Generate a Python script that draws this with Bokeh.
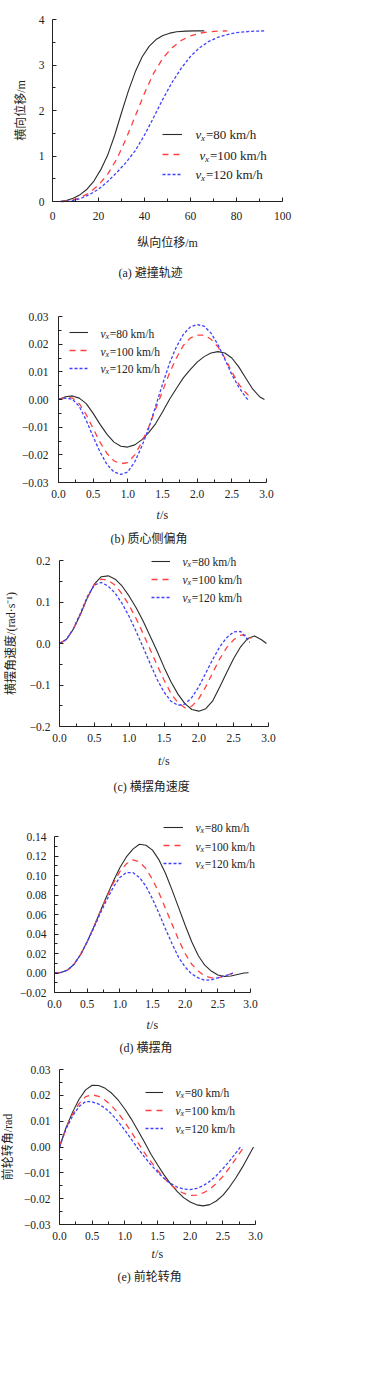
from bokeh.plotting import figure
from bokeh.models import Range1d, FixedTicker, Label, Legend, LegendItem, CustomJSTickFormatter
from bokeh.layouts import column
from bokeh.embed import file_html
from bokeh.resources import INLINE

# ---------------- data ----------------
series_names = ["=80 km/h", "=100 km/h", "=120 km/h"]

# (a) trajectory: longitudinal x (m) vs lateral y (m)
a_x80 = [3, 6, 9, 12, 15, 18, 21, 24, 27, 30, 33, 36, 39, 42, 45, 48, 51, 54, 58, 62, 66]
a_y80 = [0.0, 0.02, 0.07, 0.15, 0.27, 0.45, 0.70, 1.02, 1.45, 1.95, 2.43, 2.85, 3.18, 3.41, 3.56, 3.65, 3.70, 3.73, 3.745, 3.75, 3.75]
a_x100 = [4, 8, 12, 16, 20, 24, 28, 32, 36, 40, 44, 48, 52, 56, 60, 64, 68, 72, 76]
a_y100 = [0.0, 0.02, 0.08, 0.19, 0.36, 0.60, 0.94, 1.38, 1.88, 2.38, 2.82, 3.15, 3.38, 3.54, 3.64, 3.70, 3.73, 3.745, 3.75]
a_x120 = [4, 8, 12, 16, 20, 24, 28, 32, 36, 40, 44, 48, 52, 56, 60, 64, 68, 72, 76, 80, 86, 92.6]
a_y120 = [0.0, 0.01, 0.06, 0.15, 0.27, 0.44, 0.64, 0.86, 1.12, 1.46, 1.85, 2.25, 2.62, 2.93, 3.19, 3.38, 3.52, 3.61, 3.67, 3.71, 3.74, 3.75]

T = [0.0, 0.1, 0.2, 0.3, 0.4, 0.5, 0.6, 0.7, 0.8, 0.9, 1.0, 1.1, 1.2, 1.3, 1.4,
     1.5, 1.6, 1.7, 1.8, 1.9, 2.0, 2.1, 2.2, 2.3, 2.4, 2.5, 2.6, 2.7, 2.8, 2.9]
t80 = T + [2.97]
t100 = T[:28] + [2.74]
t120 = T[:28] + [2.73]
t100e = T[:29] + [2.82]
t120e = T[:28] + [2.77]
t100c = T[:28] + [2.75]

# (b) sideslip angle
b_80 = [0.0, 0.0010, 0.0013, 0.0005, -0.0015, -0.0050, -0.0090, -0.0126, -0.0154, -0.0169, -0.0172,
        -0.0164, -0.0146, -0.0120, -0.0088, -0.0045, 0.0000, 0.0040, 0.0078, 0.0108, 0.0135, 0.0155,
        0.0168, 0.0173, 0.0168, 0.0150, 0.0118, 0.0078, 0.0038, 0.0010, 0.0]
b_100 = [0.0, 0.0008, 0.0005, -0.0015, -0.0055, -0.0105, -0.0155, -0.0195, -0.0222, -0.0232, -0.0228,
         -0.0200, -0.0155, -0.0100, -0.0035, 0.0030, 0.0095, 0.0150, 0.0195, 0.0222, 0.0233, 0.0233,
         0.0218, 0.0190, 0.0150, 0.0100, 0.0055, 0.0025, 0.0015]
b_120 = [0.0, 0.0005, 0.0001, -0.0025, -0.0075, -0.0135, -0.0190, -0.0235, -0.0262, -0.0271, -0.0262,
         -0.0225, -0.0170, -0.0105, -0.0025, 0.0055, 0.0130, 0.0190, 0.0235, 0.0262, 0.0271, 0.0265,
         0.0240, 0.0198, 0.0145, 0.0090, 0.0045, 0.0008, 0.0]

# (c) yaw rate
c_80 = [0.0, 0.010, 0.035, 0.070, 0.110, 0.143, 0.161, 0.163, 0.155, 0.138, 0.114, 0.086, 0.054, 0.018,
        -0.018, -0.057, -0.092, -0.122, -0.145, -0.159, -0.163, -0.157, -0.138, -0.105, -0.070, -0.036,
        -0.008, 0.012, 0.018, 0.009, 0.0]
c_100 = [0.0, 0.010, 0.035, 0.070, 0.110, 0.142, 0.155, 0.152, 0.140, 0.119, 0.092, 0.060, 0.024, -0.014,
         -0.052, -0.088, -0.120, -0.143, -0.155, -0.151, -0.133, -0.104, -0.070, -0.037, -0.010, 0.009,
         0.020, 0.020, 0.012]
c_120 = [0.0, 0.010, 0.036, 0.073, 0.113, 0.141, 0.147, 0.138, 0.121, 0.096, 0.065, 0.029, -0.009, -0.048,
         -0.086, -0.117, -0.139, -0.149, -0.146, -0.130, -0.104, -0.071, -0.038, -0.008, 0.014, 0.028,
         0.029, 0.010, 0.003]

# (d) roll angle
d_80 = [0.0, 0.0005, 0.003, 0.009, 0.019, 0.032, 0.047, 0.063, 0.079, 0.094, 0.108, 0.119, 0.127, 0.132,
        0.131, 0.126, 0.116, 0.102, 0.085, 0.067, 0.049, 0.032, 0.018, 0.008, 0.002, -0.002, -0.0035,
        -0.003, -0.0015, 0.0, 0.0003]
d_100 = [0.0, 0.0005, 0.003, 0.009, 0.019, 0.032, 0.047, 0.063, 0.078, 0.092, 0.104, 0.112, 0.116, 0.114,
         0.107, 0.096, 0.082, 0.066, 0.050, 0.034, 0.020, 0.009, 0.002, -0.003, -0.005, -0.005, -0.003,
         -0.001, 0.0]
d_120 = [0.0, 0.0005, 0.003, 0.009, 0.019, 0.032, 0.046, 0.061, 0.075, 0.088, 0.098, 0.103, 0.103, 0.098,
         0.089, 0.076, 0.061, 0.045, 0.030, 0.016, 0.006, -0.001, -0.005, -0.0075, -0.007, -0.005, -0.003,
         -0.001, 0.0]

# (e) front wheel steer angle
e_80 = [0.0, 0.0075, 0.0135, 0.0185, 0.0221, 0.0239, 0.0238, 0.0227, 0.0208, 0.0181, 0.0147, 0.0108,
        0.0064, 0.0019, -0.0028, -0.0069, -0.0108, -0.0143, -0.0172, -0.0196, -0.0213, -0.0224, -0.0228,
        -0.0223, -0.0209, -0.0187, -0.0156, -0.0119, -0.0078, -0.0032, 0.0]
e_100 = [0.0, 0.0072, 0.0127, 0.0168, 0.0195, 0.0202, 0.0196, 0.0181, 0.0159, 0.0130, 0.0096, 0.0058,
         0.0017, -0.0022, -0.0057, -0.0090, -0.0120, -0.0146, -0.0166, -0.0179, -0.0187, -0.0186, -0.0178,
         -0.0163, -0.0141, -0.0114, -0.0081, -0.0045, -0.0008, 0.0]
e_120 = [0.0, 0.0070, 0.0120, 0.0157, 0.0176, 0.0175, 0.0166, 0.0150, 0.0127, 0.0098, 0.0065, 0.0030,
         -0.0006, -0.0038, -0.0069, -0.0097, -0.0121, -0.0141, -0.0155, -0.0163, -0.0165, -0.0160, -0.0150,
         -0.0133, -0.0111, -0.0084, -0.0055, -0.0023, 0.0]

t_ticks = [0.0, 0.5, 1.0, 1.5, 2.0, 2.5, 3.0]

# ---------------- styling ----------------
SERIF = "Liberation Serif"
MIX = "Liberation Serif, Noto Sans CJK SC"
TXT = "#222222"
COLORS = ["#2b2b2b", "#ff4040", "#4040ff"]
DASHES = ["solid", "6 5", "3 2"]
WIDTHS = [1.1, 1.3, 1.3]
W = 376


def fmt(d):
    return CustomJSTickFormatter(args=dict(d=d), code="""
        const s = Math.abs(tick) < 1e-9 ? (0).toFixed(d) : tick.toFixed(d);
        return s.replace('-', '\u2212');
    """)


def mids(t):
    return [(t[i] + t[i + 1]) / 2 for i in range(len(t) - 1)]


def panel(spec):
    fl, fr, ft, fb, top, h = spec["fl"], spec["fr"], spec["ft"], spec["fb"], spec["top"], spec["h"]
    x0, x1 = spec["xt"][0], spec["xt"][-1]
    y0, y1 = spec["yt"][0], spec["yt"][-1]
    kx = (x1 - x0) / (fr - fl)
    ky = (y1 - y0) / (fb - ft)
    bottom = top + h
    p = figure(frame_width=W, frame_height=h,
               min_border_left=0, min_border_right=0, min_border_top=0, min_border_bottom=0,
               x_range=Range1d(x0 - fl * kx, x0 + (W - fl) * kx),
               y_range=Range1d(y0 - (bottom - fb) * ky, y1 + (ft - top) * ky),
               output_backend="svg", toolbar_location=None)
    p.xgrid.visible = False
    p.ygrid.visible = False
    p.outline_line_color = None
    p.background_fill_color = "white"
    p.border_fill_color = "white"
    p.xaxis.fixed_location = y0
    p.xaxis.bounds = (x0, x1)
    p.yaxis.fixed_location = x0
    p.yaxis.bounds = (y0, y1)
    for ax, ticks, d in ((p.xaxis[0], spec["xt"], spec["xd"]), (p.yaxis[0], spec["yt"], spec["yd"])):
        ax.ticker = FixedTicker(ticks=ticks, minor_ticks=mids(ticks))
        ax.formatter = fmt(d)
        ax.axis_line_color = TXT
        ax.axis_line_width = 1
        ax.major_tick_in = 4
        ax.major_tick_out = 0
        ax.minor_tick_in = 3
        ax.minor_tick_out = 0
        ax.major_tick_line_color = TXT
        ax.minor_tick_line_color = TXT
        ax.major_label_text_font = SERIF
        ax.major_label_text_font_size = "11.5px"
        ax.major_label_text_color = TXT
    p.xaxis.major_label_standoff = spec["xls"]
    p.yaxis.major_label_standoff = spec["yls"]

    if spec.get("ylabel"):
        p.yaxis.axis_label = spec["ylabel"]
        p.yaxis.axis_label_text_font = MIX
        p.yaxis.axis_label_text_font_size = "12px"
        p.yaxis.axis_label_text_font_style = "normal"
        p.yaxis.axis_label_text_color = TXT
        p.yaxis.axis_label_standoff = spec["yas"]
    if spec.get("xlabel"):
        p.xaxis.axis_label = spec["xlabel"]
        p.xaxis.axis_label_text_font = MIX
        p.xaxis.axis_label_text_font_size = "12px"
        p.xaxis.axis_label_text_font_style = "normal"
        p.xaxis.axis_label_text_color = TXT
        p.xaxis.axis_label_standoff = spec["xas"]

    rs = []
    for (xs, ys), c, dsh, w in zip(spec["data"], COLORS, DASHES, WIDTHS):
        rs.append(p.line(xs, ys, line_color=c, line_width=w, line_dash=dsh))

    # page coords -> screen coords of this figure (origin bottom-left)
    def sy(Y):
        return bottom - Y

    # legend samples
    rh = spec["rh"]
    rows = spec["rows"]
    leg = Legend(items=[LegendItem(label=" ", renderers=[r]) for r in rs],
                 location=(spec["sx"], sy(rows[-1] + rh / 2) + 0.5),
                 glyph_width=spec["gw"], glyph_height=rh, label_height=rh,
                 spacing=0, padding=0, margin=0, label_standoff=0,
                 label_text_font_size="1px", border_line_color=None,
                 background_fill_alpha=0)
    p.add_layout(leg)

    # legend texts  (v_x=... km/h)
    fs = spec["lfs"]
    for i, name in enumerate(series_names):
        xx = spec["tx"][i]
        yc = sy(rows[i])
        p.add_layout(Label(x=xx, y=yc, x_units="screen", y_units="screen", text="v",
                           text_font=SERIF, text_font_style="italic", text_font_size=f"{fs}px",
                           text_baseline="middle", text_color=TXT))
        p.add_layout(Label(x=xx + 0.43 * fs, y=yc - 0.27 * fs, x_units="screen", y_units="screen", text="x",
                           text_font=SERIF, text_font_style="italic", text_font_size=f"{fs * 0.7:.1f}px",
                           text_baseline="middle", text_color=TXT))
        p.add_layout(Label(x=xx + 0.8 * fs, y=yc, x_units="screen", y_units="screen", text=name,
                           text_font=SERIF, text_font_size=f"{fs}px",
                           text_baseline="middle", text_color=TXT))

    # t/s axis title
    if spec.get("tsy"):
        cx = (fl + fr) / 2
        yy = sy(spec["tsy"])
        p.add_layout(Label(x=cx - 6, y=yy, x_units="screen", y_units="screen", text="t",
                           text_font=SERIF, text_font_style="italic", text_font_size="12px",
                           text_baseline="middle", text_color=TXT))
        p.add_layout(Label(x=cx - 2.4, y=yy, x_units="screen", y_units="screen", text="/s",
                           text_font=SERIF, text_font_size="12px",
                           text_baseline="middle", text_color=TXT))

    # caption
    p.add_layout(Label(x=spec["capx"], y=sy(spec["capy"]), x_units="screen", y_units="screen",
                       text=spec["cap"], text_font=MIX, text_font_size="12px",
                       text_baseline="middle", text_color=TXT))
    return p


specs = [
    dict(top=0, h=290, fl=52, fr=282, ft=19, fb=201,
         xt=[0, 20, 40, 60, 80, 100], yt=[0, 1, 2, 3, 4], xd=0, yd=0, xls=10, yls=8,
         xlabel="纵向位移/m", xas=13, ylabel="横向位移/m", yas=8,
         data=[(a_x80, a_y80), (a_x100, a_y100), (a_x120, a_y120)],
         sx=162, gw=20, rows=[134, 155, 174], rh=20, tx=[195, 199, 195], lfs=13,
         cap="(a) 避撞轨迹", capx=118, capy=272),
    dict(top=290, h=255, fl=58, fr=266, ft=316, fb=482,
         xt=t_ticks, yt=[-0.03, -0.02, -0.01, 0.0, 0.01, 0.02, 0.03], xd=1, yd=2, xls=7, yls=10,
         data=[(t80, b_80), (t100, b_100), (t120, b_120)],
         sx=69, gw=19, rows=[333, 351, 368], rh=18, tx=[100, 100, 100], lfs=11.5,
         tsy=514, cap="(b) 质心侧偏角", capx=110, capy=538),
    dict(top=545, h=260, fl=59, fr=268, ft=560, fb=726,
         xt=t_ticks, yt=[-0.2, -0.1, 0.0, 0.1, 0.2], xd=1, yd=1, xls=7, yls=9,
         ylabel="横摆角速度/(rad·s⁻¹)", yas=9,
         data=[(t80, c_80), (t100c, c_100), (t120, c_120)],
         sx=151, gw=19, rows=[561, 579, 597], rh=18, tx=[182, 182, 182], lfs=11.5,
         tsy=760, cap="(c) 横摆角速度", capx=113, capy=786),
    dict(top=805, h=255, fl=54, fr=250, ft=836, fb=992,
         xt=t_ticks, yt=[-0.02, 0.0, 0.02, 0.04, 0.06, 0.08, 0.10, 0.12, 0.14], xd=1, yd=2, xls=7, yls=8,
         data=[(t80, d_80), (t120, d_100), (t120, d_120)],
         sx=163, gw=20, rows=[827, 846, 863], rh=18, tx=[195, 195, 195], lfs=11.5,
         tsy=1024, cap="(d) 横摆角", capx=119, capy=1047),
    dict(top=1060, h=332, fl=59, fr=255, ft=1069, fb=1224,
         xt=t_ticks, yt=[-0.03, -0.02, -0.01, 0.0, 0.01, 0.02, 0.03], xd=1, yd=2, xls=7, yls=9,
         ylabel="前轮转角/rad", yas=6,
         data=[(t80, e_80), (t100e, e_100), (t120e, e_120)],
         sx=145, gw=18, rows=[1092, 1110, 1128], rh=18, tx=[175, 175, 175], lfs=11.5,
         tsy=1253, cap="(e) 前轮转角", capx=117, capy=1276),
]

figs = [panel(s) for s in specs]
layout = column(*figs, spacing=0)
open("out.html", "w").write(file_html(layout, INLINE))
